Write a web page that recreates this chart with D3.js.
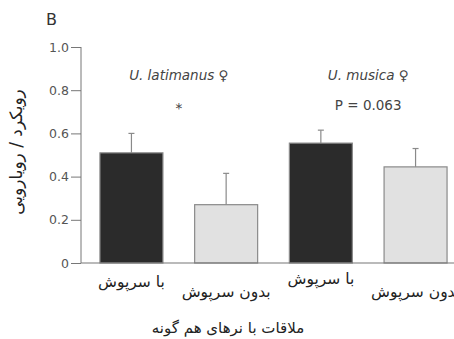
<!DOCTYPE html>
<html>
<head>
<meta charset="utf-8">
<script src="https://d3js.org/d3.v7.min.js"></script>
<style>
  body { margin: 0; background: #fff; }
  text { font-family: "DejaVu Sans", sans-serif; }
</style>
</head>
<body>
<svg id="chart"></svg>
<script>
// data
var categories = ["با سرپوش", "بدون سرپوش", "با سرپوش ", "بدون سرپوش "];
var means = [0.51, 0.27, 0.555, 0.445];
var errTops = [0.60, 0.415, 0.615, 0.53];
var fills = ["#2b2b2b", "#e1e1e1", "#2b2b2b", "#e1e1e1"];
var yTicks = [0, 0.2, 0.4, 0.6, 0.8, 1.0];
var species = ["U. latimanus ♀", "U. musica ♀"];
var signif = ["*", "P = 0.063"];
var labelBaselines = [287, 297, 284, 297];

var width = 454, height = 339;
var svg = d3.select("#chart").attr("width", width).attr("height", height);

var y = d3.scaleLinear().domain([0, 1]).range([263, 47]);
var x = d3.scaleBand().domain(categories).range([81, 466])
  .paddingInner(0.335).paddingOuter(0.2);

// y axis
var yAxis = svg.append("g").attr("transform", "translate(81,0)")
  .call(d3.axisLeft(y).tickValues(yTicks).tickSize(10).tickPadding(2)
    .tickFormat(function(d) { return d === 0 ? "0" : d3.format(".1f")(d); }));
yAxis.select(".domain").attr("stroke", "#777").attr("d", "M0," + y(1) + "V" + y(0));
yAxis.selectAll(".tick line").attr("stroke", "#777");
yAxis.selectAll(".tick text").attr("fill", "#555").attr("font-size", 12.5);

// bars
svg.selectAll("rect.bar").data(categories).enter().append("rect")
  .attr("class", "bar")
  .attr("x", function(d) { return x(d); })
  .attr("y", function(d, i) { return y(means[i]); })
  .attr("width", x.bandwidth())
  .attr("height", function(d, i) { return y(0) - y(means[i]); })
  .attr("fill", function(d, i) { return fills[i]; })
  .attr("stroke", "#8a8a8a").attr("stroke-width", 1.2);

// error bars (upper only)
var err = svg.selectAll("g.err").data(categories).enter().append("g").attr("class", "err");
err.append("line")
  .attr("x1", function(d) { return x(d) + x.bandwidth() / 2; })
  .attr("x2", function(d) { return x(d) + x.bandwidth() / 2; })
  .attr("y1", function(d, i) { return y(means[i]); })
  .attr("y2", function(d, i) { return y(errTops[i]); })
  .attr("stroke", "#8a8a8a").attr("stroke-width", 1.2);
err.append("line")
  .attr("x1", function(d) { return x(d) + x.bandwidth() / 2 - 3; })
  .attr("x2", function(d) { return x(d) + x.bandwidth() / 2 + 3; })
  .attr("y1", function(d, i) { return y(errTops[i]); })
  .attr("y2", function(d, i) { return y(errTops[i]); })
  .attr("stroke", "#8a8a8a").attr("stroke-width", 1.2);

// baseline
svg.append("line").attr("x1", 81).attr("x2", width).attr("y1", y(0)).attr("y2", y(0))
  .attr("stroke", "#777").attr("stroke-width", 1.2);

// species headers and significance
species.forEach(function(s, k) {
  var cx = (x(categories[2 * k]) + x(categories[2 * k + 1]) + x.bandwidth()) / 2;
  svg.append("text").attr("x", cx).attr("y", 80).attr("text-anchor", "middle")
    .attr("font-size", 13.5).attr("font-style", "italic").attr("fill", "#444").text(s);
  svg.append("text").attr("x", cx).attr("y", k === 0 ? 113 : 110).attr("text-anchor", "middle")
    .attr("font-size", 13.5).attr("fill", "#444").text(signif[k]);
});

// category labels (staggered)
svg.selectAll("text.cat").data(categories).enter().append("text")
  .attr("class", "cat")
  .attr("x", function(d) { return x(d) + x.bandwidth() / 2; })
  .attr("y", function(d, i) { return labelBaselines[i]; })
  .attr("text-anchor", "middle").attr("font-size", 15.5).attr("fill", "#222")
  .text(function(d) { return d.trim(); });

// panel letter
svg.append("text").attr("x", 46).attr("y", 25).attr("font-size", 16).attr("fill", "#333").text("B");

// axis titles
svg.append("text").attr("transform", "translate(22,152) rotate(-90)")
  .attr("text-anchor", "middle").attr("font-size", 17).attr("fill", "#222")
  .text("رویکرد / رویارویی");
svg.append("text").attr("x", 228).attr("y", 333).attr("text-anchor", "middle")
  .attr("font-size", 15).attr("fill", "#222").text("ملاقات با نرهای هم گونه");
</script>
</body>
</html>
